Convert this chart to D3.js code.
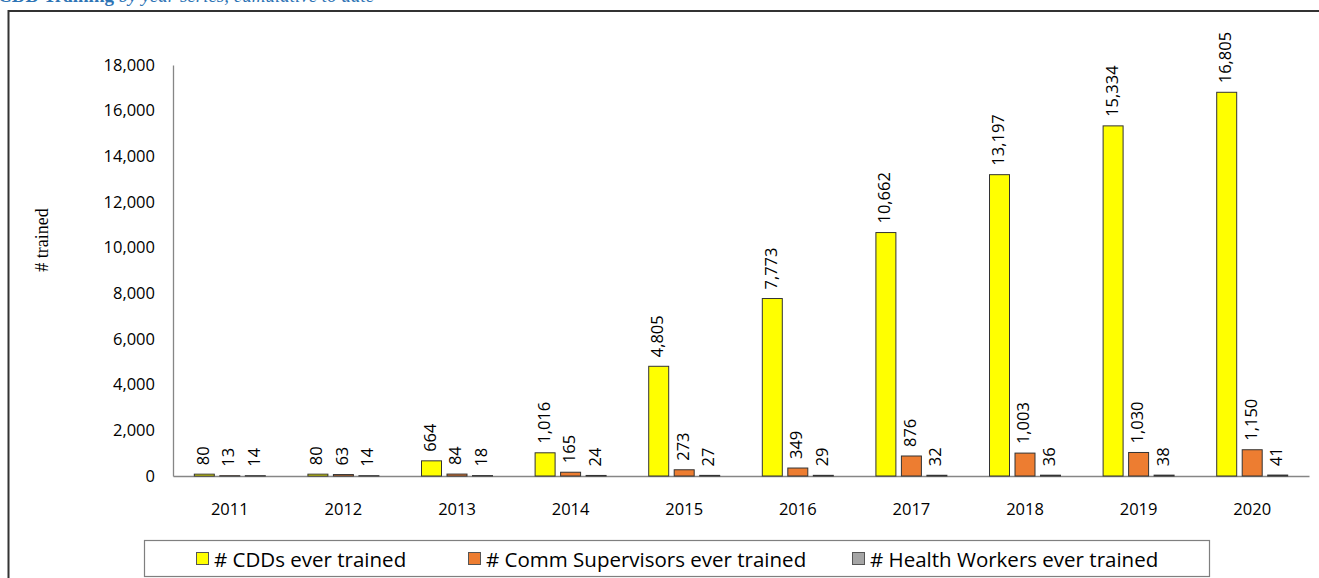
<!DOCTYPE html>
<html>
<head>
<meta charset="utf-8">
<script src="https://cdn.jsdelivr.net/npm/d3@7"></script>
<style>
  html, body { margin: 0; padding: 0; background: #fff; }
  svg { display: block; }
</style>
</head>
<body>
<svg id="chart" width="1319" height="578"></svg>
<script>
const years = ["2011","2012","2013","2014","2015","2016","2017","2018","2019","2020"];
const cdds = [80, 80, 664, 1016, 4805, 7773, 10662, 13197, 15334, 16805];
const commSupervisors = [13, 63, 84, 165, 273, 349, 876, 1003, 1030, 1150];
const healthWorkers = [14, 14, 18, 24, 27, 29, 32, 36, 38, 41];
const seriesNames = ["# CDDs ever trained", "# Comm Supervisors ever trained", "# Health Workers ever trained"];
const seriesColors = ["#FFFF00", "#ED7D31", "#A5A5A5"];
const yTicks = [0, 2000, 4000, 6000, 8000, 10000, 12000, 14000, 16000, 18000];

const seriesValues = [cdds, commSupervisors, healthWorkers];
const svg = d3.select("#chart");
const FONT = "'Open Sans', Lato, sans-serif";

// frame
svg.append("path")
  .attr("d", "M8.5,600 L8.5,11 L1330,11")
  .attr("fill", "none").attr("stroke", "#333").attr("stroke-width", 2);

// partially visible title (cut off at top edge, as in the reference)
const title = svg.append("text").attr("x", -2).attr("y", 1.5)
  .attr("font-family", "'Liberation Serif', serif").attr("font-size", 19)
  .attr("fill", "#2E74B5");
title.append("tspan").attr("font-weight", "bold").text("CDD Training ");
title.append("tspan").attr("font-style", "italic").text("by year series, cumulative to date");

const x0 = d3.scaleBand().domain(years).range([173, 1309]).padding(0);
const groupW = 82;
const x1 = d3.scaleBand().domain(d3.range(3)).range([-groupW / 2, groupW / 2]).padding(0.216);
const y = d3.scaleLinear().domain([0, 18000]).range([476, 65]);

// y axis
const yAxis = svg.append("g").attr("transform", "translate(173,0)")
  .call(d3.axisLeft(y).tickValues(yTicks).tickSize(0).tickPadding(18).tickFormat(d3.format(",")));
yAxis.select(".domain").attr("stroke", "#868686").attr("stroke-width", 1.3);
yAxis.selectAll("text").attr("font-family", FONT).attr("font-size", 16.5).attr("fill", "#000");

// x axis
const xAxis = svg.append("g").attr("transform", "translate(0,476)")
  .call(d3.axisBottom(x0).tickSize(0).tickPadding(27).tickSizeOuter(0));
xAxis.select(".domain").attr("stroke", "#868686").attr("stroke-width", 1.3);
xAxis.selectAll("text").attr("font-family", FONT).attr("font-size", 16.5).attr("fill", "#000");

// y axis title
svg.append("text")
  .attr("transform", "translate(48,240) rotate(-90)")
  .attr("text-anchor", "middle")
  .attr("font-family", "'Liberation Serif', serif").attr("font-size", 18)
  .attr("fill", "#000").text("# trained");

// bars
const groups = svg.append("g").selectAll("g").data(years).join("g")
  .attr("transform", d => `translate(${x0(d) + x0.bandwidth() / 2},0)`);

groups.each(function(yr, i) {
  const g = d3.select(this);
  seriesValues.forEach((vals, s) => {
    const v = vals[i];
    g.append("rect")
      .attr("x", x1(s)).attr("width", x1.bandwidth())
      .attr("y", y(v)).attr("height", y(0) - y(v))
      .attr("fill", seriesColors[s])
      .attr("stroke", "#333").attr("stroke-width", 1);
    const cx = x1(s) + x1.bandwidth() / 2;
    g.append("text")
      .attr("transform", `translate(${cx},${y(v) - 9}) rotate(-90)`)
      .attr("text-anchor", "start").attr("dominant-baseline", "middle")
      .attr("font-family", FONT).attr("font-size", 16.5).attr("fill", "#000")
      .text(d3.format(",")(v));
  });
});

// legend
svg.append("rect").attr("x", 144.5).attr("y", 540.5).attr("width", 1065).attr("height", 36)
  .attr("fill", "#fff").attr("stroke", "#7f7f7f").attr("stroke-width", 1.2);
const legendX = [196, 468, 852];
seriesNames.forEach((name, s) => {
  svg.append("rect").attr("x", legendX[s] + 0.5).attr("y", 552.5).attr("width", 12).attr("height", 12)
    .attr("fill", seriesColors[s]).attr("stroke", "#555").attr("stroke-width", 1);
  svg.append("text").attr("x", legendX[s] + 18).attr("y", 559)
    .attr("dominant-baseline", "central")
    .attr("font-family", FONT).attr("font-size", 20.5).attr("fill", "#000")
    .text(name);
});
</script>
</body>
</html>
